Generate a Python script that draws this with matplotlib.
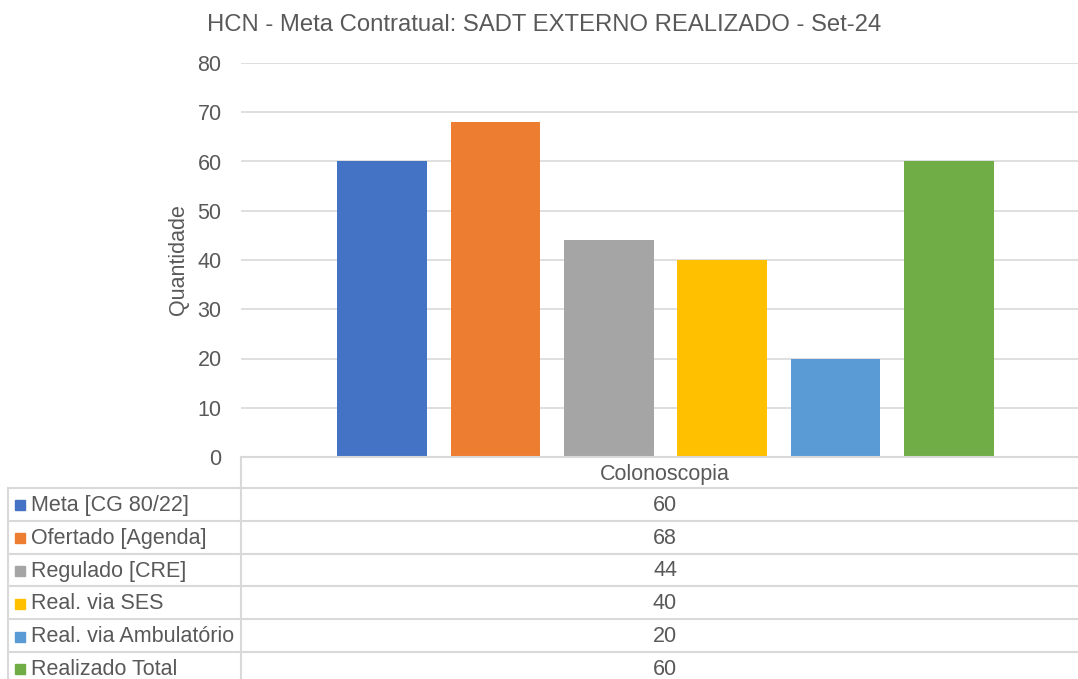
import numpy as np
import matplotlib.pyplot as plt
from matplotlib.lines import Line2D
from matplotlib.patches import Rectangle

plt.rcParams['font.family'] = ['Liberation Sans', 'DejaVu Sans']

title = "HCN - Meta Contratual: SADT EXTERNO REALIZADO - Set-24"
category = "Colonoscopia"
series = ["Meta [CG 80/22]", "Ofertado [Agenda]", "Regulado [CRE]",
          "Real. via SES", "Real. via Ambulatório", "Realizado Total"]
values = [60, 68, 44, 40, 20, 60]
colors = ["#4472C4", "#ED7D31", "#A5A5A5", "#FFC000", "#5B9BD5", "#70AD47"]

W, H = 1078, 679
txt = "#595959"
grid = "#D9D9D9"
fs = 15.5

fig = plt.figure(figsize=(W / 100, H / 100), dpi=100)

# plot area in pixel terms
x0, x1 = 241, 1078
y_top, y_zero = 63, 457
ax = fig.add_axes([x0 / W, 1 - y_zero / H, (x1 - x0) / W, (y_zero - y_top) / H])

pos = np.arange(len(values))
ax.bar(pos, values, width=0.79, color=colors, zorder=3)
ax.set_xlim(-1.245, 6.14)
ax.set_ylim(0, 80)
ax.set_yticks(range(0, 81, 10))
ax.yaxis.grid(True, color=grid, lw=1.2, zorder=0)
ax.set_xticks([])
for s in ax.spines.values():
    s.set_visible(False)
ax.tick_params(axis='y', length=0, pad=14, labelsize=fs, labelcolor=txt)
ax.set_ylabel("Quantidade", fontsize=15.5, color=txt, labelpad=6)

fig.text(544 / W, 1 - 25 / H, title, ha='center', va='center', fontsize=17.2, color=txt)

# data table below the plot
head_h = 31
row_h = 32.8
tbl_left, tbl_div = 8, 241


def fy(py):
    return 1 - py / H


lines_y = [y_zero] + [y_zero + head_h + i * row_h for i in range(len(series) + 1)]
for i, py in enumerate(lines_y):
    xs = tbl_div if i == 0 else tbl_left
    fig.add_artist(Line2D([xs / W, 1], [fy(py), fy(py)], color=grid, lw=1.5))
fig.add_artist(Line2D([tbl_div / W, tbl_div / W], [fy(y_zero), 0], color=grid, lw=1.5))
fig.add_artist(Line2D([tbl_left / W, tbl_left / W], [fy(y_zero + head_h), 0], color=grid, lw=1.5))

cx = 665 / W
fig.text(cx, fy(y_zero + head_h / 2 + 2), category, ha='center', va='center',
         fontsize=fs, color=txt)
for i, (name, v, c) in enumerate(zip(series, values, colors)):
    py = y_zero + head_h + (i + 0.5) * row_h + 1
    fig.add_artist(Rectangle((15 / W, fy(py) - 5 / H), 10 / W, 10 / H,
                             color=c, transform=fig.transFigure))
    fig.text(31 / W, fy(py), name, ha='left', va='center', fontsize=fs, color=txt)
    fig.text(cx, fy(py), str(v), ha='center', va='center', fontsize=fs, color=txt)

fig.savefig("out.png", dpi=100, facecolor='white')
